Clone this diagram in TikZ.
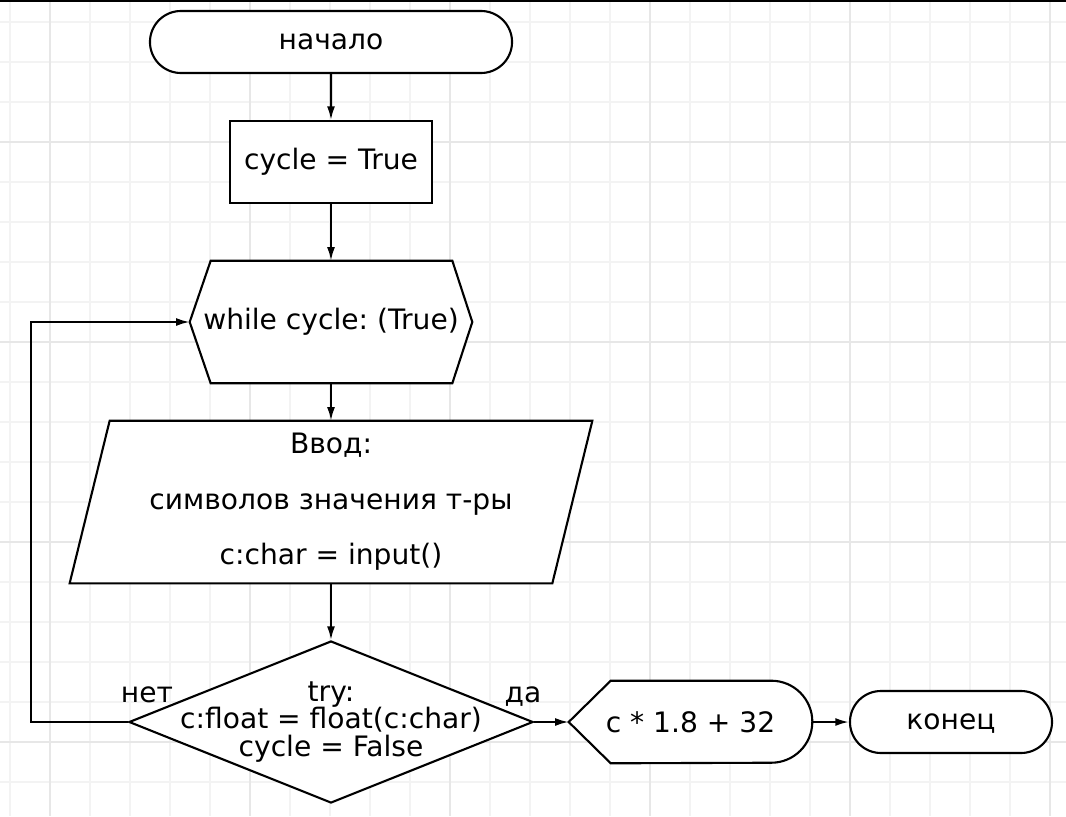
\documentclass[tikz,border=0pt]{standalone}
\usepackage{fontspec}
\setmainfont{DejaVu Sans}
\usetikzlibrary{arrows.meta,shapes.misc,shapes.geometric,backgrounds}

\definecolor{gridminor}{RGB}{243,243,243}
\definecolor{gridmajor}{RGB}{231,231,231}

\begin{document}
\frenchspacing
\begin{tikzpicture}[x=0.025cm,y=-0.025cm,
        font=\fontsize{20pt}{19.6pt}\selectfont,
        shapeline/.style={draw=black,line width=1.5pt,fill=white},
        terminal/.style={shapeline,rounded rectangle,minimum height=1.55cm,inner sep=0pt,text depth=0pt},
        process/.style={shapeline,rectangle,minimum width=5.05cm,minimum height=2.05cm,inner sep=0pt},
        decision/.style={shapeline,diamond,minimum width=10.1cm,minimum height=4.05cm,inner sep=0pt},
        textbox/.style={rectangle,inner sep=0pt,align=center},
        flow/.style={-{Latex[length=3.4mm,width=2mm]},line width=1.5pt}]

        % Page and grid
        \useasboundingbox (0,0) rectangle (1066,816);
        \begin{scope}[on background layer]
            \fill[white] (0,0) rectangle (1066,816);
            \foreach \x in {10,50,...,1050} \draw[gridminor,line width=0.8pt] (\x,0) -- (\x,816);
            \foreach \y in {22,62,...,782} \draw[gridminor,line width=0.8pt] (0,\y) -- (1066,\y);
            \foreach \x in {50,250,...,1050} \draw[gridmajor,line width=0.8pt] (\x,0) -- (\x,816);
            \foreach \y in {142,342,...,742} \draw[gridmajor,line width=0.8pt] (0,\y) -- (1066,\y);
        \end{scope}
        \draw[line width=1.5pt] (0,1) -- (1066,1);

        % Main column
        \node[terminal,minimum width=9.05cm] (start) at (331,42) {начало};
        \node[process] (init) at (331,162) {cycle = True};
        \node[textbox,minimum width=7.05cm,minimum height=3.05cm] (loop) at (331,322) {while cycle: (True)};
        \node[textbox,minimum width=13.05cm,minimum height=4.05cm] (input) at (331,502)
            {Ввод:\\[0.7cm]символов значения т-ры\\[0.7cm]c:char = input()};
        \node[decision] (check) at (331,722) {};
        \node[textbox] (checktext) at (331,722) {try:\\c:float = float(c:char)\\cycle = False};

        % Right branch
        \node[textbox,minimum width=6.075cm,minimum height=2.05cm] (result) at (690.5,722) {c * 1.8 + 32};
        \node[terminal,minimum width=5.05cm] (stop) at (951,722) {конец};

        % Branch labels
        \node[anchor=base] (nolabel) at (147,702) {нет};
        \node[anchor=base] (yeslabel) at (523,702) {да};

        % Outlines of the drawn shapes
        \begin{scope}[on background layer]
            \draw[shapeline] (loop.west) -- ([xshift=0.525cm]loop.north west) -- ([xshift=-0.5cm]loop.north east)
                -- (loop.east) -- ([xshift=-0.5cm]loop.south east) -- ([xshift=0.525cm]loop.south west) -- cycle;
            \draw[shapeline] ([xshift=1cm]input.north west) -- (input.north east)
                -- ([xshift=-1cm]input.south east) -- (input.south west) -- cycle;
            \draw[shapeline] (result.west) -- ([xshift=1.05cm]result.north west) -- ([xshift=-1.025cm]result.north east)
                arc[start angle=90,end angle=-90,radius=1.025cm] -- ([xshift=1.05cm]result.south west) -- cycle;
        \end{scope}

        % Loop back corners
        \coordinate (loopbot) at (31,722);
        \coordinate (looptop) at (31,322);

        % Arcs between blocks
        \draw[flow] (start) -- (init);
        \draw[flow] (init) -- (loop);
        \draw[flow] (loop) -- (input);
        \draw[flow] (input.south) -- (check.north);
        \draw[flow] (check.east) -- (result.west);
        \draw[flow] (result.east) -- (stop.west);
        \draw[flow] (check.west) -- (loopbot) -- (looptop) -- (loop.west);
    \end{tikzpicture}
\end{document}
